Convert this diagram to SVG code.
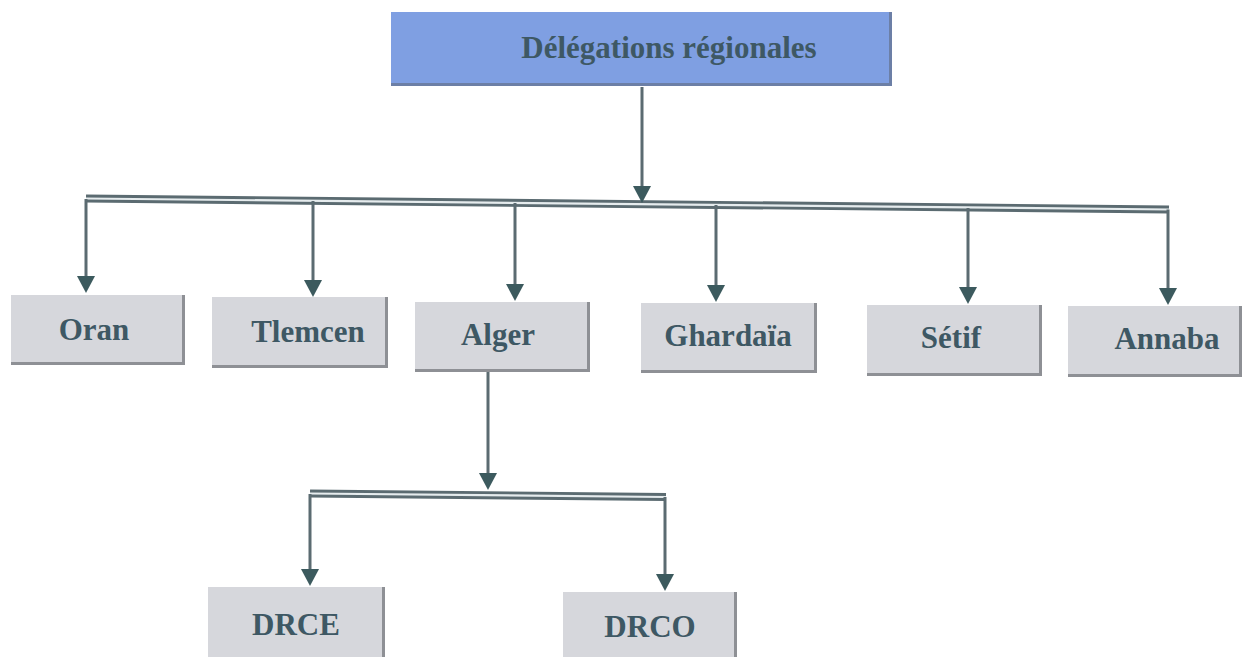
<svg xmlns="http://www.w3.org/2000/svg" width="1248" height="657" viewBox="0 0 1248 657">
  <style>
    .box { fill: #d6d7dc; }
    .edge { fill: #8e9095; }
    .head { fill: #7f9fe2; }
    .head-edge { fill: #6c7fa6; }
    .lbl { font-family: 'Liberation Serif', 'Times New Roman', 'DejaVu Serif', serif; font-weight: 700; font-size: 31px; fill: #3e5864; text-anchor: middle; }
    .wire { fill: none; stroke: #5b6b71; stroke-width: 3; }
    .bus { fill: none; stroke: #5b6b71; stroke-width: 8; }
    .bus-gap { fill: none; stroke: #e6ecee; stroke-width: 2.2; }
  </style>
  <defs>
    <marker id="arrow" viewBox="0 0 17 18" refX="6" refY="9" markerWidth="17" markerHeight="18" markerUnits="userSpaceOnUse" orient="auto">
      <path d="M0,0 L17,9 L0,18 z" fill="#3c5a5e"/>
    </marker>
  </defs>

  <rect width="1248" height="657" fill="#ffffff"/>

  <!-- connectors -->
  <g id="connectors">
    <!-- main distribution bus -->
    <path class="bus" d="M86,198.5 L1169,209.5"/>
    <path class="bus-gap" d="M86,198.5 L1169,209.5"/>
    <!-- trunk from the head office -->
    <path class="wire" d="M642,87 L642,192" marker-end="url(#arrow)"/>
    <!-- drops to the regional offices -->
    <path class="wire" d="M86,199 L86,282" marker-end="url(#arrow)"/>
    <path class="wire" d="M313,201 L313,286" marker-end="url(#arrow)"/>
    <path class="wire" d="M515,203 L515,290" marker-end="url(#arrow)"/>
    <path class="wire" d="M716,205 L716,291" marker-end="url(#arrow)"/>
    <path class="wire" d="M968,208 L968,293" marker-end="url(#arrow)"/>
    <path class="wire" d="M1168,209.5 L1168,294" marker-end="url(#arrow)"/>
    <!-- Alger sub-branch -->
    <path class="wire" d="M488,372 L488,479" marker-end="url(#arrow)"/>
    <path class="bus" d="M310,493.5 L666,497"/>
    <path class="bus-gap" d="M310,493.5 L666,497"/>
    <path class="wire" d="M310,494 L310,575" marker-end="url(#arrow)"/>
    <path class="wire" d="M665,497 L665,580" marker-end="url(#arrow)"/>
  </g>

  <!-- head office -->
  <g id="node-delegations">
    <rect class="head-edge" x="391" y="12" width="501" height="74"/>
    <rect class="head" x="391" y="12" width="498" height="71"/>
    <text class="lbl" x="669" y="58">Délégations régionales</text>
  </g>

  <g id="node-oran">
    <rect class="edge" x="11" y="295" width="174" height="70"/>
    <rect class="box" x="11" y="295" width="171" height="67"/>
    <text class="lbl" x="94" y="340">Oran</text>
  </g>

  <g id="node-tlemcen">
    <rect class="edge" x="212" y="297" width="176" height="71"/>
    <rect class="box" x="212" y="297" width="173" height="68"/>
    <text class="lbl" x="308" y="342">Tlemcen</text>
  </g>

  <g id="node-alger">
    <rect class="edge" x="415" y="302" width="175" height="70"/>
    <rect class="box" x="415" y="302" width="172" height="67"/>
    <text class="lbl" x="498" y="345">Alger</text>
  </g>

  <g id="node-ghardaia">
    <rect class="edge" x="641" y="303" width="176" height="70"/>
    <rect class="box" x="641" y="303" width="173" height="67"/>
    <text class="lbl" x="728" y="346">Ghardaïa</text>
  </g>

  <g id="node-setif">
    <rect class="edge" x="867" y="305" width="175" height="71"/>
    <rect class="box" x="867" y="305" width="172" height="68"/>
    <text class="lbl" x="951" y="348">Sétif</text>
  </g>

  <g id="node-annaba">
    <rect class="edge" x="1068" y="306" width="174" height="71"/>
    <rect class="box" x="1068" y="306" width="171" height="68"/>
    <text class="lbl" x="1167" y="349">Annaba</text>
  </g>

  <g id="node-drce">
    <rect class="edge" x="208" y="587" width="177" height="80"/>
    <rect class="box" x="208" y="587" width="174" height="80"/>
    <text class="lbl" x="296" y="635">DRCE</text>
  </g>

  <g id="node-drco">
    <rect class="edge" x="563" y="592" width="174" height="80"/>
    <rect class="box" x="563" y="592" width="171" height="80"/>
    <text class="lbl" x="650" y="637">DRCO</text>
  </g>
</svg>
